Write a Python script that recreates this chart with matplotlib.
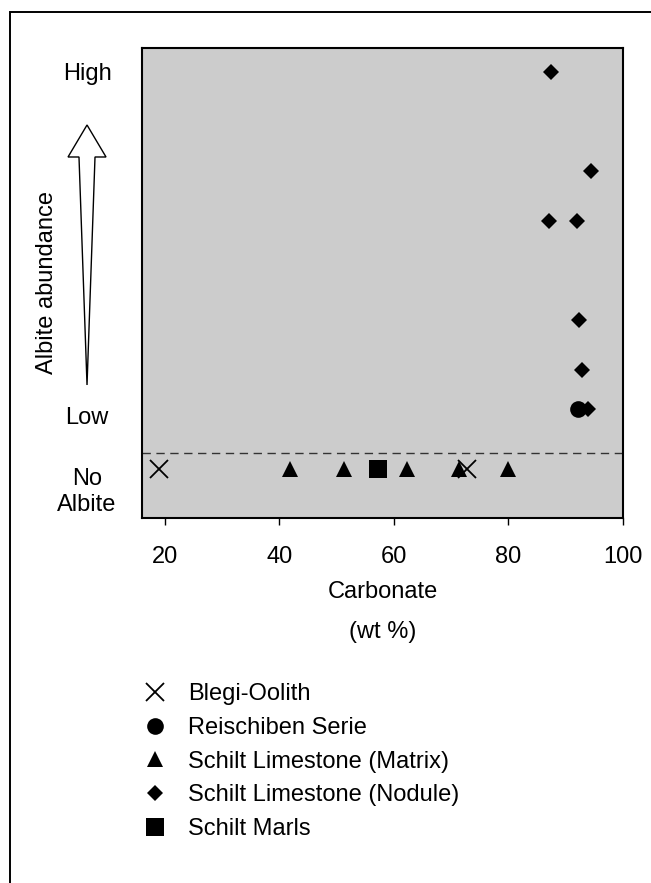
import matplotlib
matplotlib.use("Agg")
import matplotlib.pyplot as plt
from matplotlib.patches import Polygon, Rectangle
import matplotlib.transforms as mtransforms

plt.rcParams['font.family'] = ['Liberation Sans', 'DejaVu Sans']

# ---- data ----
blegi_x = [19.0, 72.8]
blegi_y = [0, 0]
reisch_x = [92.1]
reisch_y = [1.2]
matrix_x = [41.9, 51.2, 62.2, 71.4, 80.0]
matrix_y = [0, 0, 0, 0, 0]
nodule_x = [87.4, 94.4, 87.1, 92.0, 92.3, 92.8, 93.9]
nodule_y = [8, 6, 5, 5, 3, 2, 1.2]
marls_x = [57.3]
marls_y = [0]

series_labels = ["Blegi-Oolith", "Reischiben Serie", "Schilt Limestone (Matrix)",
                 "Schilt Limestone (Nodule)", "Schilt Marls"]
xticks = [20, 40, 60, 80, 100]
level_labels = ["High", "Low", "No\nAlbite"]
level_pos = [7.96, 1.03, -0.46]
no_albite_cut = 0.32

FS = 17

W, H = 651, 883
fig = plt.figure(figsize=(W / 100, H / 100), dpi=100)
ax = fig.add_axes([142 / W, 1 - 518 / H, (623 - 142) / W, (518 - 48) / H])
ax.set_facecolor('#cccccc')
for s in ax.spines.values():
    s.set_linewidth(1.5)
    s.set_color('black')

h1, = ax.plot(blegi_x, blegi_y, ls='none', marker='x', ms=13, mew=1.3, color='black', label=series_labels[0])
h3, = ax.plot(matrix_x, matrix_y, ls='none', marker='^', ms=12, mew=0, color='black', label=series_labels[2])
h5, = ax.plot(marls_x, marls_y, ls='none', marker='s', ms=13, mew=0, color='black', label=series_labels[4])
h4, = ax.plot(nodule_x, nodule_y, ls='none', marker='D', ms=8.5, mew=0, color='black', label=series_labels[3])
h2, = ax.plot(reisch_x, reisch_y, ls='none', marker='o', ms=12, mew=0, color='black', label=series_labels[1])

ax.axhline(no_albite_cut, color='#333333', lw=1.0, dashes=(6, 4))

ax.set_xlim(16, 100)
ax.set_ylim(-0.988, 8.488)
ax.set_xticks(xticks)
ax.set_xticklabels([str(t) for t in xticks], fontsize=FS)
ax.tick_params(axis='x', direction='out', length=5, width=1, pad=15)
ax.set_yticks([])

# y level labels
bt = mtransforms.blended_transform_factory(ax.transAxes, ax.transData)
for lab, pos in zip(level_labels, level_pos):
    ax.text(-0.1143, pos, lab, transform=bt, ha='center', va='center',
            fontsize=FS, linespacing=1.2, clip_on=False)

# arrow
arrow_pts = [(-0.1143, 0.8362), (-0.0748, 0.7681), (-0.0977, 0.7681),
             (-0.1143, 0.2830), (-0.1310, 0.7681), (-0.1538, 0.7681)]
ax.add_patch(Polygon(arrow_pts, closed=True, transform=ax.transAxes,
                     facecolor='white', edgecolor='black', lw=1.0, clip_on=False))

ax.text(-0.1985, 0.502, "Albite abundance", transform=ax.transAxes, rotation=90,
        ha='center', va='center', fontsize=FS)

ax.text(0.5, -0.1574, "Carbonate", transform=ax.transAxes, ha='center', va='center', fontsize=FS)
ax.text(0.5, -0.2426, "(wt %)", transform=ax.transAxes, ha='center', va='center', fontsize=FS)

fig.legend(handles=[h1, h2, h3, h4, h5], labels=series_labels,
           loc='upper left', bbox_to_anchor=(143 / W, 1 - 683 / H),
           frameon=False, fontsize=FS, handlelength=1.0, handletextpad=0.9,
           labelspacing=0.5, borderpad=0, borderaxespad=0, numpoints=1)

fig.patches.append(Rectangle((10 / W, -0.1), 2, 1 - 12 / H + 0.1, transform=fig.transFigure,
                             fill=False, edgecolor='black', lw=1.4))

fig.savefig("out.png", dpi=100)
